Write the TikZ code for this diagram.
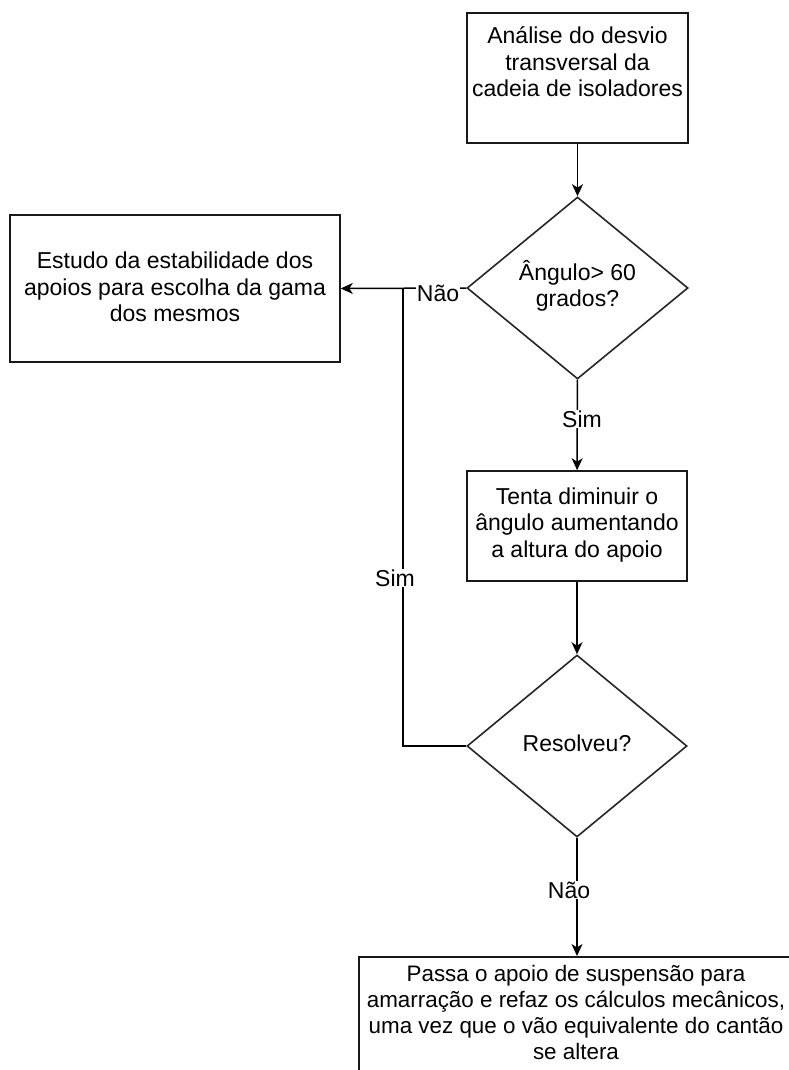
\documentclass[tikz,border=0pt]{standalone}
\usepackage{fontspec}
\setmainfont{Liberation Sans}
\usetikzlibrary{shapes.geometric,arrows.meta}
\begin{document}
\begin{tikzpicture}[x=1pt,y=-1pt,
  every node/.style={font=\fontsize{23}{26.5}\selectfont},
  stepbox/.style={draw=black!90,line width=1.6pt,fill=white,inner sep=0pt},
  decision/.style={draw=black!85,line width=1.6pt,diamond,fill=white,inner sep=0pt},
  txt/.style={align=center,inner sep=0pt,text=black},
  lbl/.style={fill=white,inner sep=1pt,text=black},
  flow/.style={line width=1.5pt,-{Stealth[length=12pt,width=11pt,inset=3.5pt]}},
  link/.style={line width=1.5pt}]
\clip (0,0) rectangle (789,1070);
\fill[white] (0,0) rectangle (789,1070);

% process boxes
\node[stepbox,minimum width=221,minimum height=130] (b1) at (577.5,78) {};
\node[txt] (b1t) at (577.5,62) {Análise do desvio\\transversal da\\cadeia de isoladores};

\node[stepbox,minimum width=330,minimum height=147] (b2) at (175,288.5) {};
\node[txt] (b2t) at (175,287) {Estudo da estabilidade dos\\apoios para escolha da gama\\dos mesmos};

\node[stepbox,minimum width=220,minimum height=110] (b3) at (577,526) {};
\node[txt] (b3t) at (577,525) {Tenta diminuir o\\ângulo aumentando\\a altura do apoio};

\node[stepbox,minimum width=436,minimum height=140,anchor=north] (b4) at (577,956) {};
\node[txt,font=\fontsize{22.4}{26.3}\selectfont] (b4t) at (576,1012.5) {Passa o apoio de suspensão para\\amarração e refaz os cálculos mecânicos,\\uma vez que o vão equivalente do cantão\\se altera};

% decisions
\node[decision,minimum width=221,minimum height=182] (d1) at (577.5,288) {};
\node[txt] (d1t) at (577.5,286) {Ângulo> 60\\grados?};

\node[decision,minimum width=220,minimum height=182] (d2) at (577,746) {};
\node[txt] (d2t) at (577,743) {Resolveu?};

% connectors
\coordinate (jn) at (403,288);
\draw[flow] (b1) -- (d1);
\draw[flow] (d1.west) -- (b2.east);
\node[lbl] (lno1) at (438,293) {Não};
\draw[flow] (d1) -- (b3);
\node[lbl] (lsim1) at (582,419) {Sim};
\draw[flow] (b3) -- (d2);
\draw[link] (d2.west) -| (jn);
\node[lbl] (lsim2) at (395,578) {Sim};
\draw[flow] (d2.south) -- (b4.north);
\node[lbl] (lno2) at (569,890) {Não};
\end{tikzpicture}
\end{document}
